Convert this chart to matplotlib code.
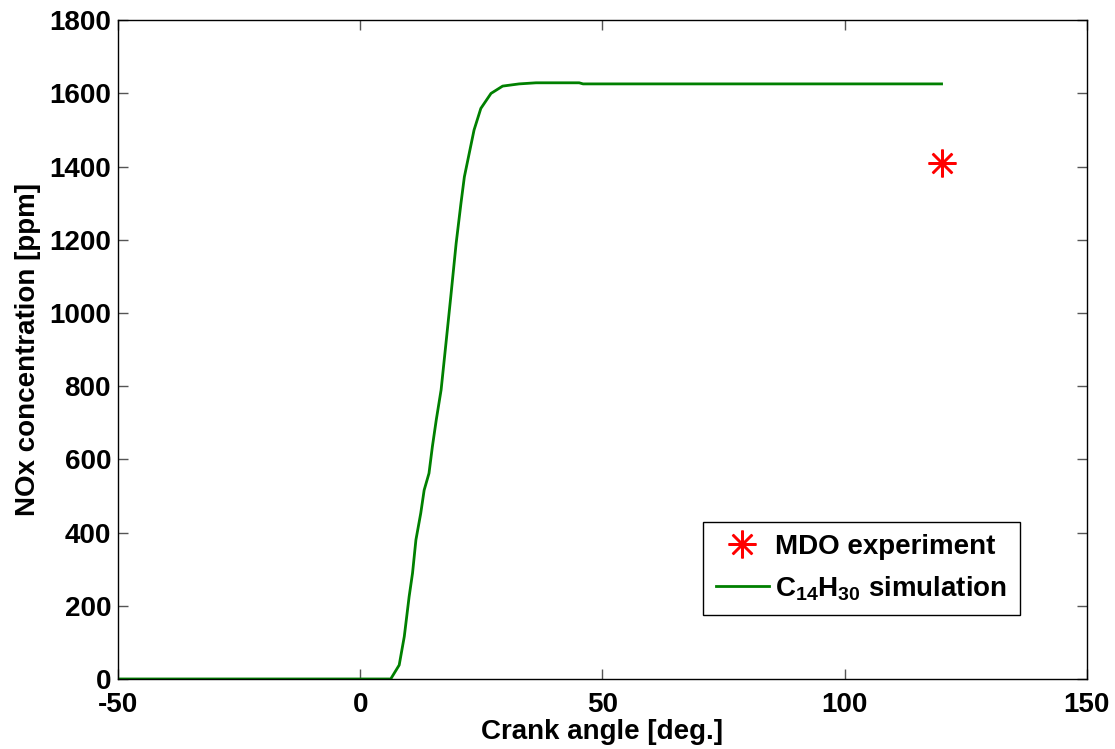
import matplotlib
matplotlib.use("Agg")
import matplotlib.pyplot as plt

# simulated NOx history (C14H30) vs crank angle
crank_angle = [-50, 0, 5, 6.3, 8.05, 9.1, 10.1, 10.8, 11.5, 12.5, 13.2, 14.2, 14.9,
               15.7, 16.7, 17.7, 18.7, 19.8, 20.8, 21.5, 22.5, 23.5, 24.9, 27.0,
               29.4, 32.8, 36.3, 45.2, 46.0, 80, 120]
nox_sim = [0, 0, 0, 0, 38, 116, 225, 289, 380, 453, 516, 562, 635,
           708, 790, 917, 1045, 1190, 1300, 1372, 1436, 1500, 1559, 1600,
           1620, 1626, 1629, 1629, 1626, 1626, 1626]

# measured value at exhaust
exp_angle = [120]
exp_nox = [1410]

plt.rcParams['font.family'] = ['Liberation Sans', 'DejaVu Sans']
plt.rcParams['font.weight'] = 'bold'
plt.rcParams['axes.unicode_minus'] = False
plt.rcParams['mathtext.fontset'] = 'custom'
plt.rcParams['mathtext.rm'] = 'Liberation Sans:bold'
plt.rcParams['mathtext.bf'] = 'Liberation Sans:bold'
plt.rcParams['mathtext.default'] = 'bf'

fig = plt.figure(figsize=(11.15, 7.49), dpi=100)
ax = fig.add_axes([0.1058, 0.0935, 0.869, 0.8795])

ax.plot(exp_angle, exp_nox, linestyle='none', marker=(8, 2, 0), markersize=20,
        markeredgewidth=1.8, color='red', label='MDO experiment')
ax.plot(crank_angle, nox_sim, color=(0, 0.5, 0), lw=2,
        label=r'C$_{14}$H$_{30}$ simulation')

ax.set_xlim(-50, 150)
ax.set_ylim(0, 1800)
ax.set_xticks(range(-50, 151, 50))
ax.set_yticks(range(0, 1801, 200))
ax.tick_params(direction='in', top=True, right=True, length=7, width=1,
               color='#555555', labelsize=20)
ax.tick_params(axis='x', pad=9.5)
ax.tick_params(axis='y', pad=5)
for s in ax.spines.values():
    s.set_linewidth(1)

ax.set_xlabel('Crank angle [deg.]', fontsize=20, fontweight='bold', labelpad=0.5)
ax.set_ylabel('NOx concentration [ppm]', fontsize=20, fontweight='bold', labelpad=6)

leg = ax.legend(loc='lower right', bbox_to_anchor=(0.931, 0.097), fontsize=20,
                fancybox=False, edgecolor='black', framealpha=1, borderaxespad=0,
                handlelength=1.9, handletextpad=0.25, borderpad=0.45, labelspacing=0.5)
leg.get_frame().set_linewidth(1)

fig.savefig('out.png', dpi=100)
